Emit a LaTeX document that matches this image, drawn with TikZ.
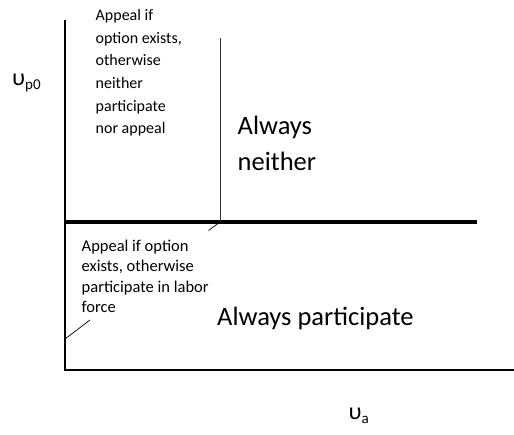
\documentclass[tikz,border=0pt]{standalone}
\usepackage{fontspec}
\setmainfont{Carlito}
\tikzset{
	smalltext/.style={align=left, anchor=north west, inner sep=0pt, font=\fontsize{16}{22.6}\selectfont},
	lowtext/.style={align=left, anchor=north west, inner sep=0pt, font=\fontsize{16.5}{20.4}\selectfont},
	bigtext/.style={align=left, anchor=north west, inner sep=0pt, font=\fontsize{26.5}{36.7}\selectfont},
	axislabel/.style={anchor=base west, inner sep=0pt, font=\fontsize{24}{24}\selectfont}
}
\newcommand{\subtxt}[1]{\raisebox{-4pt}{\fontsize{15}{15}\selectfont #1}}
\begin{document}
\begin{tikzpicture}[x=1pt, y=-1pt]
		%%%%% START %%%%%
		\useasboundingbox (0, 0) rectangle (514, 435);
		
		\coordinate (origin) at (65, 370);
		\coordinate (ytop) at (65, 20);
		\coordinate (xend) at (514, 370);
		\coordinate (lineleft) at (65, 222);
		\coordinate (lineright) at (477, 222);
		\coordinate (splittop) at (220, 38);
		\coordinate (splitbot) at (220, 222);
		
		% axes
		\draw[line width=1.2pt] (ytop) -- (origin) -- (xend);
		
		% borders
		\draw[line width=4pt] (lineleft) -- (lineright);
		\draw[line width=0.9pt, color=black!80] (splittop) -- (splitbot);
		
		% pointers
		\draw[line width=0.7pt] (splitbot) -- (208.5, 230.5);
		\draw[line width=0.7pt] (65, 339) -- (90, 320);
		
		\node[smalltext] (appealhigh) at (95.5, 9.4) {Appeal if\\option exists,\\otherwise\\neither\\participate\\nor appeal};
		\node[bigtext] (neither) at (237.5, 115.7) {Always\\neither};
		\node[lowtext] (appeallow) at (81.5, 239.6) {Appeal if option\\exists, otherwise\\participate in labor\\force};
		\node[bigtext] (participate) at (217, 306.7) {Always participate};
		
		\node[axislabel] (ylabel) at (12, 86) {υ\subtxt{p0}};
		\node[axislabel] (xlabel) at (348.5, 420) {υ\subtxt{a}};
		
		%%%%% END %%%%%
	\end{tikzpicture}
\end{document}
